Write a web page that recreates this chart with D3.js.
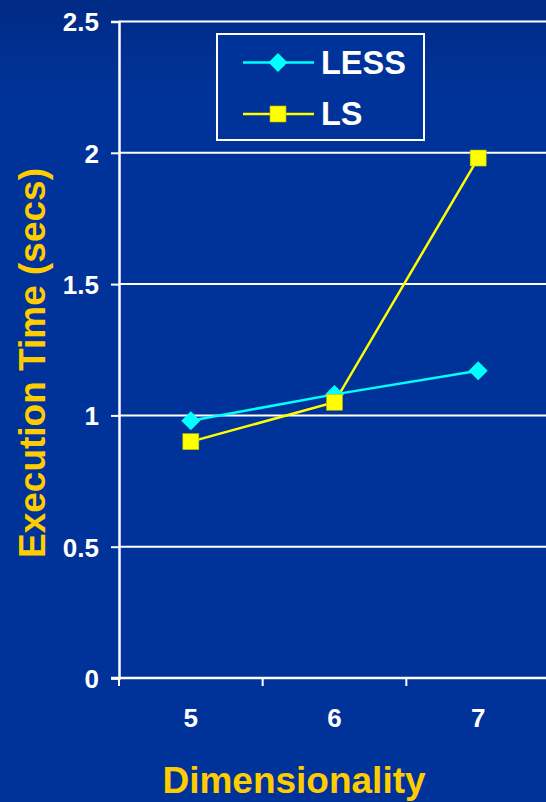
<!DOCTYPE html>
<html>
<head>
<meta charset="utf-8">
<script src="https://cdn.jsdelivr.net/npm/d3@7/dist/d3.min.js"></script>
<style>
  html, body { margin: 0; padding: 0; background: #003399; }
  svg { display: block; }
</style>
</head>
<body>
<svg id="chart" width="546" height="802"></svg>
<script>
const categories = ["5", "6", "7"];
const lessValues = [0.98, 1.08, 1.17];
const lsValues = [0.90, 1.05, 1.98];
const yTicks = [0, 0.5, 1, 1.5, 2, 2.5];
const yTickLabels = ["0", "0.5", "1", "1.5", "2", "2.5"];
const seriesNames = ["LESS", "LS"];
const seriesColors = ["#00FFFF", "#FFFF00"];

(function () {
const W = 546, H = 802;
const svg = d3.select("#chart");
const font = "Arial, 'Liberation Sans', sans-serif";

// background with slight darkening toward the top
const defs = svg.append("defs");
const grad = defs.append("linearGradient").attr("id", "bg")
  .attr("x1", 0).attr("y1", 0).attr("x2", 0).attr("y2", 1);
grad.append("stop").attr("offset", 0).attr("stop-color", "#002b85");
grad.append("stop").attr("offset", 0.12).attr("stop-color", "#003399");
grad.append("stop").attr("offset", 1).attr("stop-color", "#003399");
svg.append("rect").attr("width", W).attr("height", H).attr("fill", "url(#bg)");

const plotLeft = 119, plotTop = 21.5, plotBottom = 678, plotRight = 550;

const x = d3.scaleBand().domain(categories).range([plotLeft, plotRight]).padding(0);
const y = d3.scaleLinear().domain([0, 2.5]).range([plotBottom, plotTop]);
const cx = c => x(c) + x.bandwidth() / 2;

// horizontal gridlines
svg.append("g").selectAll("line").data(yTicks.filter(v => v > 0)).join("line")
  .attr("x1", plotLeft).attr("x2", W).attr("y1", d => y(d)).attr("y2", d => y(d))
  .attr("stroke", "#fff").attr("stroke-width", 2);

// y axis
const yAxis = svg.append("g").attr("transform", `translate(${plotLeft},0)`)
  .call(d3.axisLeft(y).tickValues(yTicks).tickFormat((d, i) => yTickLabels[i]).tickSize(8).tickPadding(12));
yAxis.select(".domain").attr("stroke", "#fff").attr("stroke-width", 2.5);
yAxis.selectAll(".tick line").attr("stroke", "#fff").attr("stroke-width", 2);
yAxis.selectAll(".tick text").attr("fill", "#fff").attr("font-family", font)
  .attr("font-weight", "bold").attr("font-size", 26).attr("dy", "0.36em");

// x axis: ticks at band boundaries, labels at band centers
const xg = svg.append("g");
xg.append("line").attr("x1", plotLeft - 8).attr("x2", W).attr("y1", plotBottom).attr("y2", plotBottom)
  .attr("stroke", "#fff").attr("stroke-width", 2.5);
const boundaries = categories.map(c => x(c));
xg.selectAll("line.tk").data(boundaries).join("line").attr("class", "tk")
  .attr("x1", d => d).attr("x2", d => d).attr("y1", plotBottom).attr("y2", plotBottom + 8)
  .attr("stroke", "#fff").attr("stroke-width", 2);
xg.selectAll("text").data(categories).join("text")
  .attr("x", d => cx(d)).attr("y", 727).attr("text-anchor", "middle")
  .attr("fill", "#fff").attr("font-family", font).attr("font-weight", "bold").attr("font-size", 26)
  .text(d => d);

// axis titles
svg.append("text").attr("x", 294).attr("y", 793).attr("text-anchor", "middle")
  .attr("fill", "#FFCC00").attr("font-family", font).attr("font-weight", "bold").attr("font-size", 37)
  .text("Dimensionality");
svg.append("text").attr("transform", "translate(45,363) rotate(-90)").attr("text-anchor", "middle")
  .attr("fill", "#FFCC00").attr("font-family", font).attr("font-weight", "bold").attr("font-size", 37)
  .text("Execution Time (secs)");

// series lines and markers
const line = d3.line().x((d, i) => cx(categories[i])).y(d => y(d));
const allSeries = [lessValues, lsValues];
allSeries.forEach((vals, s) => {
  svg.append("path").datum(vals).attr("d", line).attr("fill", "none")
    .attr("stroke", seriesColors[s]).attr("stroke-width", 2.5);
});
const diamond = (g, px, py) => g.append("path")
  .attr("d", `M${px},${py - 9.5}L${px + 9.5},${py}L${px},${py + 9.5}L${px - 9.5},${py}Z`)
  .attr("fill", seriesColors[0]);
const square = (g, px, py) => g.append("rect")
  .attr("x", px - 8).attr("y", py - 8).attr("width", 16).attr("height", 16)
  .attr("fill", seriesColors[1]).attr("stroke", "#b8b800").attr("stroke-width", 0.6);
const mk = svg.append("g");
lessValues.forEach((v, i) => diamond(mk, cx(categories[i]), y(v)));
lsValues.forEach((v, i) => square(mk, cx(categories[i]), y(v)));

// legend
const lg = svg.append("g");
lg.append("rect").attr("x", 217).attr("y", 34).attr("width", 207).attr("height", 106)
  .attr("fill", "#003399").attr("stroke", "#fff").attr("stroke-width", 2);
const rows = [62.5, 114];
seriesNames.forEach((name, s) => {
  lg.append("line").attr("x1", 243).attr("x2", 314).attr("y1", rows[s]).attr("y2", rows[s])
    .attr("stroke", seriesColors[s]).attr("stroke-width", 2.5);
  if (s === 0) diamond(lg, 278, rows[s]); else square(lg, 278, rows[s]);
  lg.append("text").attr("x", 321).attr("y", rows[s] + 11)
    .attr("fill", "#fff").attr("font-family", font).attr("font-weight", "bold").attr("font-size", 32.5)
    .text(name);
});
})();
</script>
</body>
</html>
